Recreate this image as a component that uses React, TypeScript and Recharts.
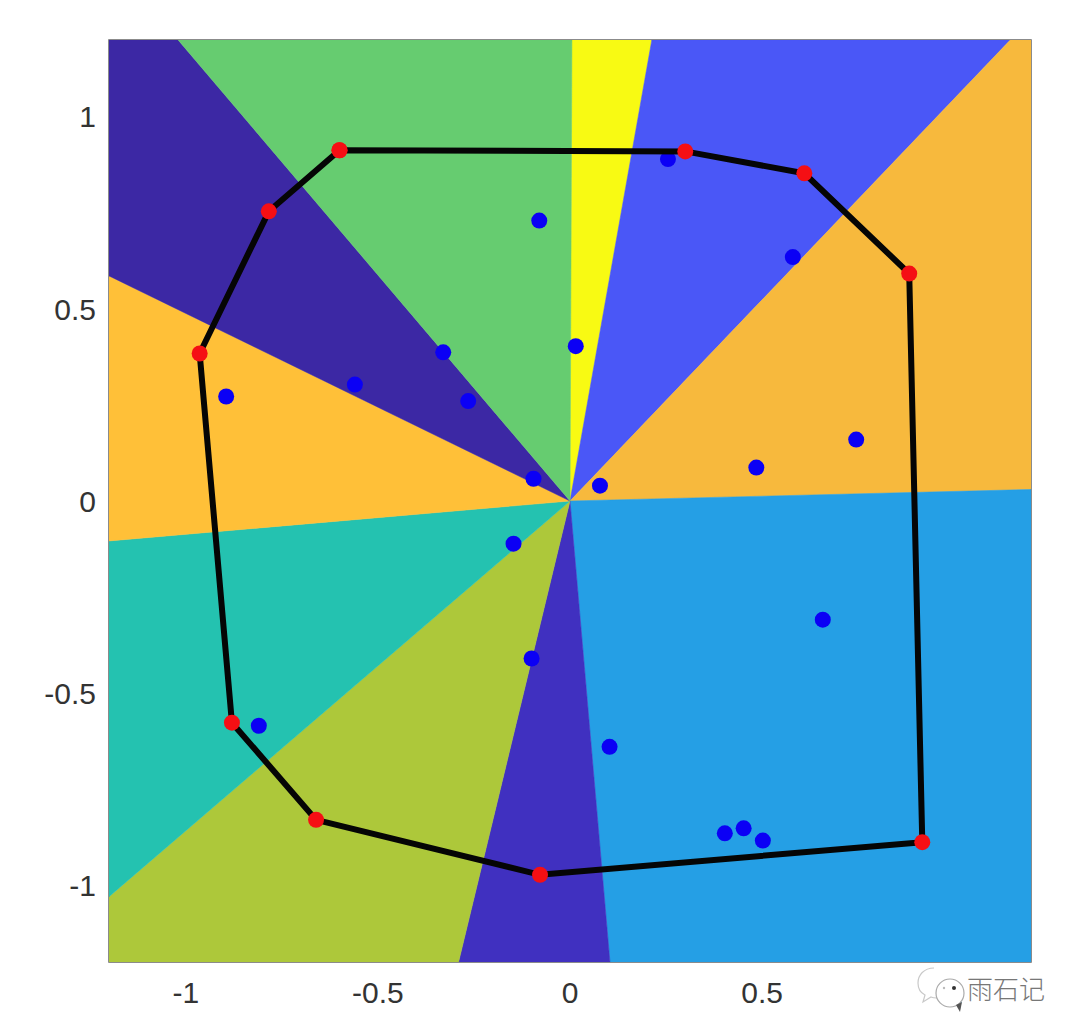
import React from 'react';
import { ComposedChart, Scatter, XAxis, YAxis, ReferenceArea } from 'recharts';

const ticks = [-1, -0.5, 0, 0.5, 1];

// sectors, listed as corners in data units, clockwise from the top
const yellowSector = [{ x: 0, y: 0 }, { x: 0.005, y: 1.2 }, { x: 0.213, y: 1.2 }];
const blueSector = [{ x: 0, y: 0 }, { x: 0.213, y: 1.2 }, { x: 1.146, y: 1.2 }];
const orangeSector = [{ x: 0, y: 0 }, { x: 1.146, y: 1.2 }, { x: 1.2, y: 1.2 }, { x: 1.2, y: 0.03 }];
const skySector = [{ x: 0, y: 0 }, { x: 1.2, y: 0.03 }, { x: 1.2, y: -1.2 }, { x: 0.104, y: -1.2 }];
const indigoSector = [{ x: 0, y: 0 }, { x: 0.104, y: -1.2 }, { x: -0.29, y: -1.2 }];
const oliveSector = [{ x: 0, y: 0 }, { x: -0.29, y: -1.2 }, { x: -1.2, y: -1.2 }, { x: -1.2, y: -1.03 }];
const tealSector = [{ x: 0, y: 0 }, { x: -1.2, y: -1.03 }, { x: -1.2, y: -0.104 }];
const amberSector = [{ x: 0, y: 0 }, { x: -1.2, y: -0.104 }, { x: -1.2, y: 0.586 }];
const violetSector = [{ x: 0, y: 0 }, { x: -1.2, y: 0.586 }, { x: -1.2, y: 1.2 }, { x: -1.02, y: 1.2 }];
const greenSector = [{ x: 0, y: 0 }, { x: -1.02, y: 1.2 }, { x: 0.005, y: 1.2 }];

const sectors = [
  { data: yellowSector, color: '#f8fa13' },
  { data: blueSector, color: '#4a57f7' },
  { data: orangeSector, color: '#f7b93d' },
  { data: skySector, color: '#259fe5' },
  { data: indigoSector, color: '#4030c0' },
  { data: oliveSector, color: '#adc83a' },
  { data: tealSector, color: '#24c2b0' },
  { data: amberSector, color: '#ffc038' },
  { data: violetSector, color: '#3c28a4' },
  { data: greenSector, color: '#66cc70' },
];

const hull = [
  { x: -0.6, y: 0.913 },
  { x: 0.3, y: 0.91 },
  { x: 0.61, y: 0.853 },
  { x: 0.883, y: 0.592 },
  { x: 0.917, y: -0.888 },
  { x: -0.078, y: -0.973 },
  { x: -0.661, y: -0.83 },
  { x: -0.88, y: -0.577 },
  { x: -0.964, y: 0.384 },
  { x: -0.784, y: 0.754 },
  { x: -0.6, y: 0.913 },
];

const samples = [
  { x: 0.255, y: 0.89 },
  { x: -0.08, y: 0.73 },
  { x: 0.58, y: 0.635 },
  { x: -0.33, y: 0.387 },
  { x: 0.015, y: 0.403 },
  { x: -0.56, y: 0.303 },
  { x: -0.265, y: 0.26 },
  { x: -0.895, y: 0.272 },
  { x: -0.095, y: 0.058 },
  { x: 0.078, y: 0.04 },
  { x: 0.485, y: 0.087 },
  { x: 0.745, y: 0.16 },
  { x: -0.147, y: -0.111 },
  { x: 0.658, y: -0.309 },
  { x: -0.1, y: -0.41 },
  { x: -0.81, y: -0.585 },
  { x: 0.103, y: -0.64 },
  { x: 0.403, y: -0.865 },
  { x: 0.452, y: -0.852 },
  { x: 0.502, y: -0.884 },
];

const noMark = () => <g />;

// the line renderer gets the scaled corners as {x, y} pixels
const sectorFill = (color: string) => (props: any) => (
  <polygon
    points={props.points.map((p: any) => `${p.x},${p.y}`).join(' ')}
    fill={color}
    stroke={color}
    strokeWidth={0.5}
  />
);

const dot = (color: string) => (props: any) => <circle cx={props.cx} cy={props.cy} r={8} fill={color} />;

const tickStyle = { fontSize: 30, fill: '#333333', fontFamily: 'Liberation Sans, Arial, sans-serif' };

const App: React.FC = () => {
  return (
    <div style={{ position: 'absolute', left: 0, top: 0, width: 1080, height: 1035, background: '#fff' }}>
      <ComposedChart width={1080} height={1035} margin={{ top: 40, right: 49, bottom: 0, left: 0 }}>
        <XAxis
          type="number"
          dataKey="x"
          domain={[-1.2, 1.2]}
          ticks={ticks}
          height={73}
          tick={tickStyle}
          tickLine={false}
          axisLine={false}
          tickMargin={14}
          allowDataOverflow
        />
        <YAxis
          type="number"
          dataKey="y"
          domain={[-1.2, 1.2]}
          ticks={ticks}
          width={109}
          tick={tickStyle}
          tickLine={false}
          axisLine={false}
          tickMargin={7}
          allowDataOverflow
        />
        {sectors.map((s, i) => (
          <Scatter key={i} data={s.data} shape={noMark} line={sectorFill(s.color)} isAnimationActive={false} />
        ))}
        <ReferenceArea x1={-1.2} x2={1.2} y1={-1.2} y2={1.2} fill="none" stroke="#666666" strokeWidth={1.5} />
        <Scatter data={samples} shape={dot('#0b00f5')} isAnimationActive={false} />
        <Scatter
          data={hull}
          shape={noMark}
          line={{ stroke: '#050505', strokeWidth: 6 }}
          isAnimationActive={false}
        />
        <Scatter data={hull} shape={dot('#f50f14')} isAnimationActive={false} />
      </ComposedChart>
      <svg width={52} height={50} style={{ position: 'absolute', left: 914, top: 962 }}>
        <path d="M20 6 C10 6 4 13 4 21 C4 27 7 31 11 33 L9 40 L17 35 C19 36 21 36 23 36" fill="#fff" stroke="#c9c9c9" strokeWidth={1.2} />
        <circle cx={36} cy={31} r={14} fill="#fff" stroke="#aaaaaa" strokeWidth={1.2} />
        <path d="M42 43 L46 50 L48 40" fill="#555" />
        <circle cx={40} cy={26} r={2} fill="#333" />
        <circle cx={30} cy={26} r={1.2} fill="#bbb" />
      </svg>
      <div
        style={{
          position: 'absolute',
          left: 967,
          top: 973,
          fontSize: 26,
          lineHeight: '30px',
          color: '#777777',
          fontFamily: '"Noto Sans CJK SC", sans-serif',
          fontWeight: 300,
          whiteSpace: 'nowrap',
        }}
      >
        雨石记
      </div>
    </div>
  );
};

export default App;
